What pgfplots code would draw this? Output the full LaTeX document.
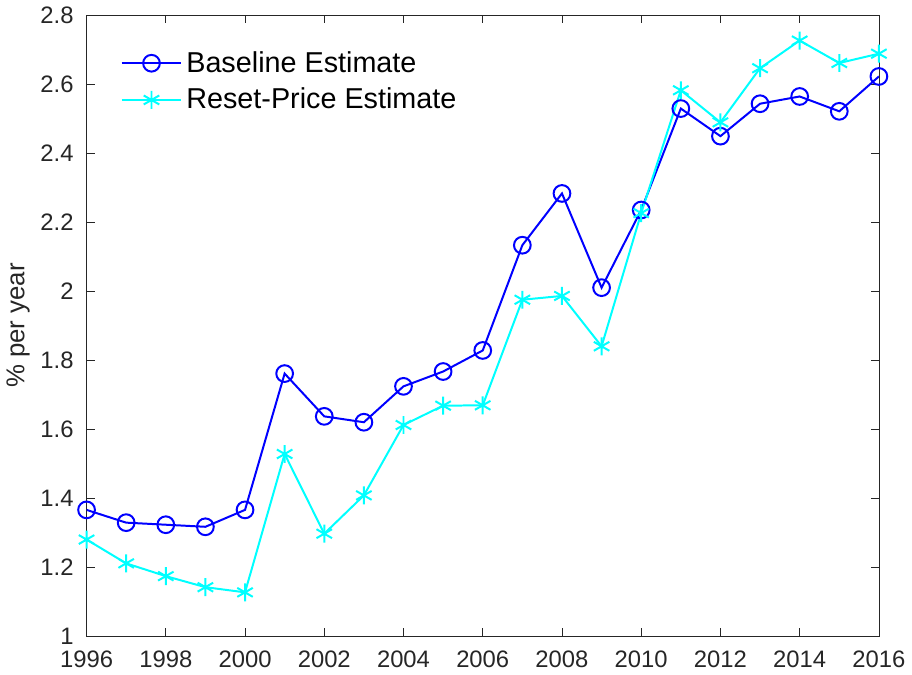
\documentclass[border=0pt]{standalone}
\usepackage{fontspec}
\setmainfont{Liberation Sans}
\usepackage{pgfplots}
\pgfplotsset{compat=1.18}
\definecolor{axgray}{gray}{0.15}
\definecolor{mblue}{rgb}{0,0,1}
\definecolor{mcyan}{rgb}{0,1,1}
\begin{document}
\begin{tikzpicture}
\begin{axis}[
  scale only axis,
  width=398bp, height=312bp,
  xmin=1996, xmax=2016, ymin=1, ymax=2.8,
  xtick={1996,1998,...,2016},
  ytick={1,1.2,...,2.8},
  yticklabels={1,1.2,1.4,1.6,1.8,2,2.2,2.4,2.6,2.8},
  /pgf/number format/assume math mode=true,
  xticklabel style={/pgf/number format/1000 sep={}, yshift=-4bp},
  yticklabel style={xshift=-3bp},
  tick align=inside,
  ticklabel style={font=\fontsize{12}{14}\selectfont, text=axgray},
  axis line style={axgray, line width=0.4pt},
  every tick/.style={axgray, line width=0.4pt},
  major tick length=4bp,
  ylabel={\% per year},
  ylabel style={font=\fontsize{13}{15}\selectfont, text=axgray, yshift=-1.5pt},
  legend style={at={(0.035,0.955)}, anchor=north west, draw=none, fill=none,
    font=\fontsize{14.5}{17.5}\selectfont, row sep=2.5bp},
  legend cell align=left,
  legend image code/.code={
    \draw[mark repeat=2,mark phase=2,#1]
      plot coordinates {(0bp,0bp) (15bp,0bp) (30bp,0bp)};
  },
]
\addplot[color=mblue, line width=1bp, mark=o, mark size=4.2bp, mark options={line width=1bp}] coordinates {
(1996,1.366) (1997,1.329) (1998,1.323) (1999,1.317) (2000,1.366)
(2001,1.761) (2002,1.637) (2003,1.620) (2004,1.724) (2005,1.767)
(2006,1.828) (2007,2.133) (2008,2.283) (2009,2.010) (2010,2.235)
(2011,2.529) (2012,2.449) (2013,2.543) (2014,2.564) (2015,2.521)
(2016,2.622)};
\addlegendentry{Baseline Estimate}
\addplot[color=mcyan, line width=1bp, mark=asterisk, mark size=4.5bp, mark options={line width=1bp}] coordinates {
(1996,1.280) (1997,1.211) (1998,1.174) (1999,1.142) (2000,1.127)
(2001,1.528) (2002,1.297) (2003,1.408) (2004,1.612) (2005,1.668)
(2006,1.669) (2007,1.975) (2008,1.986) (2009,1.840) (2010,2.226)
(2011,2.582) (2012,2.489) (2013,2.646) (2014,2.726) (2015,2.661)
(2016,2.688)};
\addlegendentry{Reset-Price Estimate}
\end{axis}
\end{tikzpicture}
\end{document}
